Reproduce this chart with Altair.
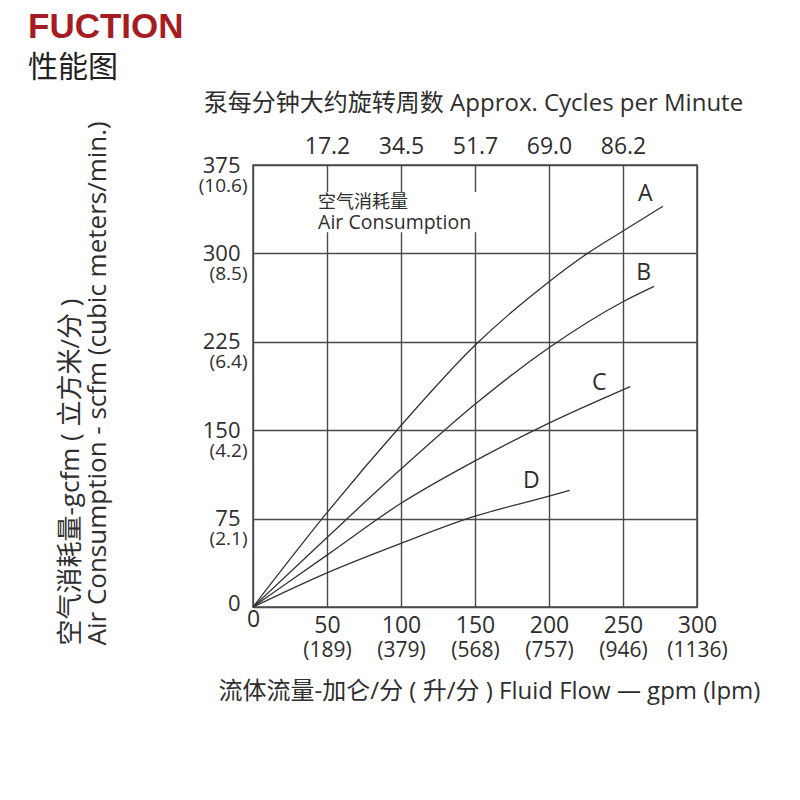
import altair as alt
import pandas as pd

# ---- data ----
series = ["A", "B", "C", "D"]
a_x = [0, 50, 100, 150, 200, 226, 250, 277]
a_y = [0, 80, 154, 222, 276, 300, 319, 340]
b_x = [0, 50, 100, 150, 200, 250, 271]
b_y = [0, 59, 117, 172, 220, 259, 272]
c_x = [0, 50, 100, 150, 200, 255]
c_y = [0, 44, 88, 124, 156, 187]
d_x = [0, 50, 100, 150, 200, 214]
d_y = [0, 29, 54, 77, 94, 99]

label_x = [265, 264, 234, 188]
label_y = [350, 283, 190, 107]

flow_ticks = [0, 50, 100, 150, 200, 250, 300]
flow_lpm = ["", "(189)", "(379)", "(568)", "(757)", "(946)", "(1136)"]
cycle_ticks = [50, 100, 150, 200, 250]
cycle_labels = ["17.2", "34.5", "51.7", "69.0", "86.2"]
air_ticks = [0, 75, 150, 225, 300, 375]
air_cmm = ["", "(2.1)", "(4.2)", "(6.4)", "(8.5)", "(10.6)"]

note_cn = "空气消耗量"
note_en = "Air Consumption"
note_x = 44
note_cn_y = 343
note_en_y = 326
note_box_x = [41, 153]
note_box_y = [318, 352]

title_main = "FUCTION"
title_sub = "性能图"
top_title = "泵每分钟大约旋转周数 Approx. Cycles per Minute"
bottom_title = "流体流量-加仑/分 ( 升/分 ) Fluid Flow — gpm (lpm)"
left_title = ["空气消耗量-gcfm ( 立方米/分 )", "Air Consumption - scfm (cubic meters/min.)"]

FONT = "Open Sans, Noto Sans CJK SC"
TXT = "#2e2e2e"
LINE = "#4a4a4a"


def label_expr(ticks, labels):
    s = "''"
    for t, l in reversed(list(zip(ticks, labels))):
        s = f"datum.value == {t} ? '{l}' : ({s})"
    return s


rows = []
for name, xs_, ys_ in zip(series, [a_x, b_x, c_x, d_x], [a_y, b_y, c_y, d_y]):
    for xv, yv in zip(xs_, ys_):
        rows.append({"series": name, "x": xv, "y": yv})
curve_df = pd.DataFrame(rows)
label_df = pd.DataFrame({"series": series, "x": label_x, "y": label_y})
box_df = pd.DataFrame({"x": [note_box_x[0]], "x2": [note_box_x[1]],
                       "y": [note_box_y[0]], "y2": [note_box_y[1]]})
cn_df = pd.DataFrame({"x": [note_x], "y": [note_cn_y], "t": [note_cn]})
en_df = pd.DataFrame({"x": [note_x], "y": [note_en_y], "t": [note_en]})

xs = alt.Scale(domain=[0, 300], nice=False, zero=False)
ys = alt.Scale(domain=[0, 375], nice=False, zero=False)

bottom_axis = alt.Axis(
    orient="bottom", values=flow_ticks, format="d", grid=True, gridColor=LINE,
    gridWidth=1.4, gridOpacity=1, ticks=False, domain=False,
    labelFont=FONT, labelFontSize=23, labelColor=TXT,
    labelPadding={"condition": {"test": "datum.value === 0", "value": 1}, "value": 7},
    labelAlign="center", labelFlush=False, labelOverlap=False,
    title=bottom_title, titleFont=FONT, titleFontSize=24, titleFontWeight="normal",
    titleColor=TXT, titleX=236, titleY=84, titleAlign="center", titleBaseline="middle",
)
bottom_paren_axis = alt.Axis(
    orient="bottom", values=flow_ticks, labelExpr=label_expr(flow_ticks, flow_lpm),
    grid=False, ticks=False, domain=False,
    labelFont=FONT, labelFontSize=21, labelColor=TXT, labelPadding=32,
    labelAlign="center", labelFlush=False, labelOverlap=False, title=None,
)
top_axis = alt.Axis(
    orient="top", values=cycle_ticks, labelExpr=label_expr(cycle_ticks, cycle_labels),
    grid=False, ticks=False, domain=False,
    labelFont=FONT, labelFontSize=23, labelColor=TXT, labelPadding=7,
    labelAlign="center", labelFlush=False, labelOverlap=False,
    title=top_title, titleFont=FONT, titleFontSize=24, titleFontWeight="normal",
    titleColor=TXT, titleX=220, titleY=-62, titleAlign="center", titleBaseline="middle",
)
left_axis = alt.Axis(
    orient="left", values=air_ticks, format="d", grid=True, gridColor=LINE,
    gridWidth=1.4, gridOpacity=1, ticks=False, domain=False,
    labelFont=FONT, labelFontSize=22, labelColor=TXT, labelPadding=13,
    labelOffset={"condition": {"test": "datum.value === 0", "value": -4}, "value": 0},
    labelAlign="right", labelBaseline="middle", labelFlush=False, labelOverlap=False,
    title=left_title, titleFont=FONT, titleFontSize=26, titleFontWeight="normal",
    titleColor=TXT, titleAngle=270, titleAlign="left", titleBaseline="middle",
    titleX=-183, titleY=480, titleLineHeight=27,
)
left_paren_axis = alt.Axis(
    orient="left", values=air_ticks[1:], labelExpr=label_expr(air_ticks, air_cmm),
    grid=False, ticks=False, domain=False,
    labelFont=FONT, labelFontSize=19, labelColor=TXT, labelPadding=6,
    labelAlign="right", labelBaseline="middle", labelOffset=20,
    labelFlush=False, labelOverlap=False, title=None,
)

box = alt.Chart(box_df).mark_rect(color="white").encode(
    x=alt.X("x:Q", scale=xs, axis=None), x2="x2:Q",
    y=alt.Y("y:Q", scale=ys, axis=None), y2="y2:Q",
)
curves = alt.Chart(curve_df).mark_line(interpolate="monotone", color="#333333", strokeWidth=1.3).encode(
    x=alt.X("x:Q", scale=xs, axis=bottom_axis),
    y=alt.Y("y:Q", scale=ys, axis=left_axis),
    detail="series:N",
)
letters = alt.Chart(label_df).mark_text(font=FONT, fontSize=23, color=TXT).encode(
    x=alt.X("x:Q", scale=xs, axis=top_axis),
    y=alt.Y("y:Q", scale=ys, axis=left_paren_axis),
    text="series:N",
)
cn = alt.Chart(cn_df).mark_text(font=FONT, fontSize=18, color=TXT, align="left", baseline="middle").encode(
    x=alt.X("x:Q", scale=xs, axis=bottom_paren_axis),
    y=alt.Y("y:Q", scale=ys, axis=None),
    text="t:N",
)
en = alt.Chart(en_df).mark_text(font=FONT, fontSize=19.5, color=TXT, align="left", baseline="middle").encode(
    x=alt.X("x:Q", scale=xs, axis=None),
    y=alt.Y("y:Q", scale=ys, axis=None),
    text="t:N",
)

chart = alt.layer(box, curves, letters, cn, en).resolve_axis(
    x="independent", y="independent"
).properties(
    width=444, height=442,
    autosize=alt.AutoSizeParams(type="none"),
    padding={"left": 245, "top": 157, "right": 70, "bottom": 120},
    title=alt.TitleParams(
        text=title_main, subtitle=title_sub, anchor="start", frame="group",
        font="Liberation Sans", fontSize=35, fontWeight="bold", color="#a51d22",
        subtitleFont="Noto Sans CJK SC", subtitleFontSize=30, subtitleColor="#222222",
        subtitlePadding=8, dx=-225, dy=-4, offset=4,
    ),
).configure_view(stroke=LINE, strokeWidth=1.5)

chart.save("out.html", embed_options={"renderer": "svg", "actions": False})
